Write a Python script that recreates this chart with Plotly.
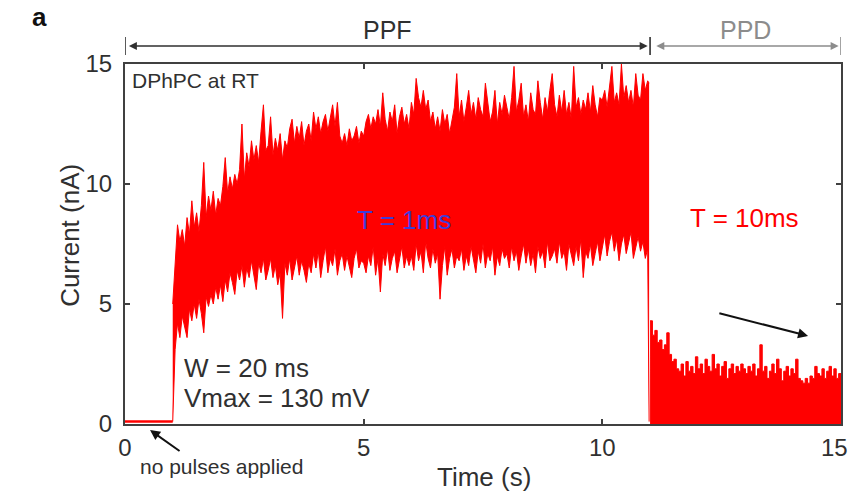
import numpy as np
import plotly.graph_objects as go

# baseline before pulses (s, nA)
t_base = [0.0, 1.0]
i_base = [0.1, 0.1]

# PPF phase, T = 1 ms: upper and lower edges of the trace, read every 0.05 s from 1.00 s
t_ppf = list(np.round(np.arange(200) * 0.05 + 1.0, 2)) + [10.98]
hi_ppf = [
    5.0, 6.8, 8.3, 7.6, 8.1, 7.4, 8.6, 7.9, 9.3, 8.2, 8.8, 8.0, 9.1, 10.9, 8.6, 9.5, 8.9, 9.7, 8.7, 9.4,
    9.1, 9.9, 11.1, 9.6, 10.3, 9.8, 10.4, 10.0, 10.6, 12.5, 10.2, 11.3, 10.7, 11.8, 11.0, 11.6, 10.9, 12.2, 13.3, 11.4,
    11.6, 12.8, 11.2, 11.9, 11.4, 12.1, 11.0, 11.8, 11.5, 12.3, 12.7, 11.7, 12.4, 11.9, 12.6, 11.6, 12.2, 12.5, 11.8, 13.0,
    12.3, 12.8, 12.1, 12.6, 12.9, 12.2, 12.7, 13.3, 12.4, 13.4, 12.0, 11.7, 12.1, 11.6, 12.3, 11.8, 12.0, 12.4, 11.7, 12.2,
    12.0, 12.6, 12.9, 12.3, 12.8, 12.5, 13.1, 12.4, 13.8, 12.7, 12.2, 13.0, 12.6, 13.3, 12.1, 12.8, 13.2, 12.5, 12.9, 12.3,
    13.4, 12.9, 14.4, 13.6, 13.2, 13.9, 13.1, 13.5, 12.6, 13.0, 12.3, 12.8, 12.2, 13.1, 12.5, 12.9, 12.1, 12.7, 13.2, 14.6,
    12.8, 13.5, 12.6, 13.2, 13.9, 12.9, 13.4, 12.7, 13.6, 13.1, 12.8, 14.2, 13.3, 12.6, 13.0, 13.9, 12.5, 13.4, 12.9, 13.7,
    13.2, 12.7, 13.6, 14.9, 13.0, 13.5, 14.2, 12.8, 13.3, 12.6, 13.8, 13.1, 12.9, 14.3, 13.4, 12.7, 13.6, 13.0, 13.9, 14.6,
    13.3, 12.8, 13.7, 13.0, 13.9, 12.9, 13.4, 12.7, 14.9, 13.2, 13.6, 12.9, 13.5, 13.1, 13.8, 13.0, 14.1, 13.3, 12.8, 13.6,
    13.5, 13.9, 13.2, 14.0, 14.9, 13.4, 13.8, 13.3, 15.0, 13.6, 14.1, 13.4, 13.9, 13.2, 14.6, 13.7, 13.5, 14.6, 13.9, 14.3,
    14.2,
]
lo_ppf = [
    0.1, 3.1, 4.2, 3.6, 4.5, 4.0, 3.6, 4.8, 4.3, 5.0, 4.4, 5.2, 4.6, 3.8, 5.3, 4.9, 5.4, 5.0, 5.7, 5.2,
    5.8, 5.1, 6.0, 5.5, 6.3, 5.9, 5.4, 6.4, 6.0, 6.6, 5.7, 6.5, 6.1, 6.8, 6.2, 5.6, 6.7, 6.3, 6.9, 6.0,
    6.4, 6.9, 6.1, 6.6, 5.8, 6.3, 4.4, 6.7, 6.2, 6.9, 6.0, 6.5, 7.0, 6.2, 6.8, 6.4, 5.9, 6.7, 6.3, 7.1,
    6.5, 7.2, 6.1, 6.8, 7.4, 6.3, 6.9, 6.6, 7.3, 6.2, 6.8, 7.1, 6.4, 7.0, 6.6, 6.1, 6.9, 7.3, 6.5, 6.8,
    6.7, 6.3, 7.0, 6.6, 7.4, 6.2, 6.9, 5.5, 7.1, 6.6, 7.3, 6.4, 6.9, 7.2, 6.3, 6.8, 7.4, 6.5, 7.0, 6.6,
    7.0, 6.4, 7.5, 6.8, 7.2, 6.3, 7.6, 6.9, 6.5, 7.3, 6.7, 7.1, 5.2, 6.6, 7.4, 6.2, 6.9, 7.3, 6.5, 7.0,
    6.8, 7.3, 6.4, 7.0, 6.6, 7.4, 6.9, 6.3, 7.2, 6.7, 7.5, 6.5, 7.1, 6.8, 7.4, 6.2, 7.0, 6.6, 7.3, 6.9,
    7.1, 6.5, 7.4, 6.8, 7.2, 6.4, 7.0, 7.5, 6.7, 7.3, 6.6, 7.1, 6.3, 7.4, 6.9, 7.2, 6.5, 7.6, 6.8, 7.0,
    7.3, 6.7, 7.6, 6.9, 7.2, 6.4, 7.5, 7.0, 6.6, 7.4, 6.8, 7.7, 6.1, 7.2, 6.9, 7.5, 6.6, 7.1, 7.6, 6.8,
    7.4, 7.9, 7.0, 7.6, 8.0, 7.2, 7.7, 6.8, 7.5, 7.9, 7.1, 7.6, 8.0, 6.9, 7.4, 7.8, 7.2, 7.6, 6.9, 7.3,
    0.1,
]

# PPD phase, T = 10 ms: peak current every 0.05 s from 11.00 s
t_ppd = list(np.round(np.arange(81) * 0.05 + 11.0, 2))
hi_ppd = [
    4.3, 3.7, 3.9, 3.4, 3.5, 3.1, 3.3, 3.8, 2.9, 2.6,
    2.7, 2.3, 2.2, 2.5, 2.0, 2.6, 2.2, 2.4, 2.1, 2.8,
    2.3, 2.5, 2.1, 2.7, 2.4, 2.2, 2.9, 2.3, 2.5, 2.0,
    2.4, 2.6, 1.9, 2.3, 2.5, 2.1, 2.4, 2.2, 2.5, 2.3,
    2.1, 2.4, 2.2, 2.5, 2.0, 2.3, 3.3, 2.2, 2.4, 1.9,
    2.2, 2.5, 2.1, 2.7, 2.3, 1.8, 2.2, 2.4, 2.0, 2.3,
    2.1, 2.7, 1.9, 1.8, 1.7, 1.9, 1.7, 2.0, 1.9, 2.4,
    2.1, 2.0, 2.3, 1.9, 2.2, 2.4, 2.0, 2.3, 1.9, 2.1,
    2.0,
]

ticks = [0, 5, 10, 15]
x_ticktext = ["0", "5", "10", ""]   # last x label is placed by hand so it stays inside the page

RED = "#ff0000"
INK = "#303030"
GREY = "#8c8c8c"
FONT = "Liberation Sans, Arial, sans-serif"

fig = go.Figure()
fig.add_trace(go.Scatter(x=t_base, y=i_base, mode="lines", line=dict(color=RED, width=2.5)))
fig.add_trace(go.Scatter(x=t_ppf, y=lo_ppf, mode="lines", line=dict(color=RED, width=1)))
fig.add_trace(go.Scatter(x=t_ppf, y=hi_ppf, mode="lines", line=dict(color=RED, width=1),
                         fill="tonexty", fillcolor=RED))
fig.add_trace(go.Scatter(x=t_ppd, y=hi_ppd, mode="lines", line=dict(color=RED, width=1, shape="hv"),
                         fill="tozeroy", fillcolor=RED))

ann = []
def txt(x, y, s, size, color=INK, xref="x", yref="y", xanchor="center", **kw):
    ann.append(dict(x=x, y=y, text=s, xref=xref, yref=yref, showarrow=False, xanchor=xanchor,
                    yanchor="middle", font=dict(size=size, color=color, family=FONT), **kw))

txt(-0.119, 1.13, "<b>a</b>", 26, color="#111", xref="paper", yref="paper")
txt(5.49, 1.094, "PPF", 25, yref="paper")
txt(13.0, 1.094, "PPD", 25, color=GREY, yref="paper")
txt(0.1, 14.33, "DPhPC at RT", 21, xanchor="left")
txt(5.85, 8.5, "T = 1ms", 26, color="#3d3ddb")
txt(12.97, 8.58, "T = 10ms", 26, color=RED)
txt(1.2, 2.33, "W = 20 ms", 26, xanchor="left")
txt(1.2, 1.08, "Vmax = 130 mV", 26, xanchor="left")
txt(0.135, -0.119, "no pulses applied", 21, xref="paper", yref="paper")
txt(0.501, -0.147, "Time (s)", 26, xref="paper", yref="paper")
txt(-0.077, 0.525, "Current (nA)", 26, xref="paper", yref="paper", textangle=-90)
txt(1.0125, -0.064, str(ticks[-1]), 24, xref="paper", yref="paper", xanchor="right")

# bracket arrows above the plot
ann.append(dict(x=10.95, y=1.05, ax=0.05, ay=0, xref="x", yref="paper", axref="x", ayref="pixel",
                showarrow=True, arrowside="end+start", arrowhead=2, startarrowhead=2,
                arrowsize=1, startarrowsize=1, arrowwidth=1.6, arrowcolor=INK, text=""))
ann.append(dict(x=14.95, y=1.05, ax=11.1, ay=0, xref="x", yref="paper", axref="x", ayref="pixel",
                showarrow=True, arrowside="end+start", arrowhead=2, startarrowhead=2,
                arrowsize=1, startarrowsize=1, arrowwidth=1.6, arrowcolor=GREY, text=""))
# decay arrow in PPD
ann.append(dict(x=14.31, y=3.67, ax=12.42, ay=4.63, xref="x", yref="y", axref="x", ayref="y",
                showarrow=True, arrowhead=2, arrowsize=1, arrowwidth=2, arrowcolor="#111", text=""))
# "no pulses applied" pointer
ann.append(dict(x=0.035, y=-0.017, ax=31, ay=22, xref="paper", yref="paper", axref="pixel", ayref="pixel",
                showarrow=True, arrowhead=2, arrowsize=1, arrowwidth=2, arrowcolor="#111", text=""))

shapes = [
    dict(type="line", xref="x", yref="paper", x0=0, x1=0, y0=1.025, y1=1.075, line=dict(color=INK, width=1.6)),
    dict(type="line", xref="x", yref="paper", x0=11.0, x1=11.0, y0=1.025, y1=1.075, line=dict(color=INK, width=1.6)),
    dict(type="line", xref="x", yref="paper", x0=15.0, x1=15.0, y0=1.025, y1=1.075, line=dict(color=GREY, width=1.6)),
]

axis = dict(range=[0, 15], tickvals=ticks, showgrid=False, zeroline=False,
            showline=True, linecolor="#404040", linewidth=2, mirror="ticks",
            ticks="inside", ticklen=5, tickwidth=2, tickcolor="#404040",
            ticklabeloverflow="allow", automargin=False,
            tickfont=dict(size=24, color=INK, family=FONT))

fig.update_layout(
    width=851, height=491,
    margin=dict(l=125, r=10, t=64, b=67),
    paper_bgcolor="white", plot_bgcolor="white",
    showlegend=False,
    font=dict(family=FONT, color=INK),
    xaxis=dict(axis, ticktext=x_ticktext, ticklabelstandoff=1),
    yaxis=dict(axis, ticklabelstandoff=6),
    annotations=ann,
    shapes=shapes,
)

# drop the default page margin so the figure sits at the window's corner
fig.write_html("out.html", config={"displayModeBar": False},
               post_script="document.body.style.margin='0';document.body.style.overflow='hidden';")
